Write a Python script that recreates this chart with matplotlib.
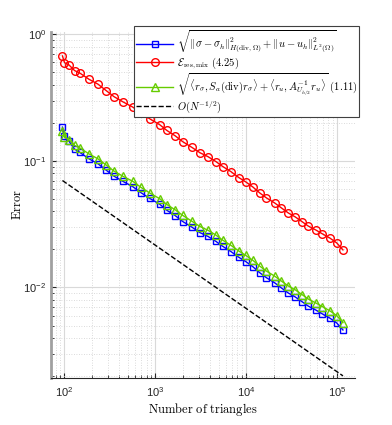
import matplotlib
matplotlib.use('Agg')
import matplotlib.pyplot as plt
from matplotlib.ticker import LogLocator, NullFormatter

plt.rcParams['font.family'] = ['Liberation Sans', 'DejaVu Sans']
plt.rcParams['mathtext.fontset'] = 'cm'

# number of triangles of the adaptive meshes
n_tri = [95, 100, 112, 129, 148, 186, 234, 287, 351, 440, 566, 692, 870,
         1120, 1340, 1650, 2000, 2520, 3100, 3800, 4650, 5530, 6800, 8300,
         9900, 11800, 14100, 16700, 20500, 24400, 29000, 34600, 41400,
         48000, 58000, 69000, 83000, 99000, 116000]

# exact error
err_exact = [0.185, 0.157, 0.1435, 0.124, 0.1166, 0.1039, 0.0949, 0.0846,
             0.0757, 0.0689, 0.0625, 0.0562, 0.0505, 0.0454, 0.0407, 0.0370,
             0.0332, 0.0300, 0.0271, 0.0253, 0.0231, 0.0211, 0.0192, 0.0173,
             0.0160, 0.0146, 0.01306, 0.01193, 0.01090, 0.00990, 0.00904,
             0.00841, 0.00769, 0.00713, 0.00664, 0.00617, 0.00573, 0.00524,
             0.00461]

# residual estimator (4.25)
err_res = [0.676, 0.598, 0.574, 0.518, 0.494, 0.442, 0.404, 0.360, 0.322,
           0.293, 0.266, 0.239, 0.215, 0.193, 0.174, 0.158, 0.142, 0.128,
           0.116, 0.108, 0.0987, 0.0902, 0.0822, 0.0738, 0.0682, 0.0623,
           0.0558, 0.0510, 0.0466, 0.0425, 0.0388, 0.0361, 0.0330, 0.0306,
           0.0285, 0.0265, 0.0246, 0.0225, 0.0198]

# estimator (1.11)
err_dual = [0.173, 0.154, 0.1475, 0.1326, 0.1265, 0.1136, 0.1038, 0.0929,
            0.0831, 0.0756, 0.0689, 0.0619, 0.0557, 0.0502, 0.0452, 0.0411,
            0.0371, 0.0334, 0.0303, 0.0283, 0.0259, 0.0236, 0.0215, 0.0194,
            0.0179, 0.0164, 0.01473, 0.01346, 0.01230, 0.01122, 0.01028,
            0.00957, 0.00875, 0.00811, 0.00755, 0.00705, 0.00654, 0.00599,
            0.00527]

# reference slope line
ref_n = [95, 116000]
ref_err = [0.070, 0.0020]

fig = plt.figure(figsize=(3.92, 4.25), dpi=100)
ax = fig.add_axes([0.130, 0.111, 0.776, 0.814])

lw = 1.0
ax.loglog(n_tri, err_exact, '-s', color='#0000ff', mfc='none', ms=4.5, lw=lw, mew=1.0,
          label=r'$\sqrt{\|\sigma-\sigma_h\|^2_{H(\mathrm{div},\Omega)}+\|u-u_h\|^2_{L^2(\Omega)}}$')
ax.loglog(n_tri, err_res, '-o', color='#ff0000', mfc='none', ms=5.5, lw=lw, mew=1.0,
          label=r'$\mathcal{E}_{\mathrm{res,mix}}\ (4.25)$')
ax.loglog(n_tri, err_dual, '-^', color='#66cc00', mfc='none', ms=5.5, lw=lw, mew=1.0,
          label=r'$\sqrt{\langle r_\sigma, S_a(\mathrm{div})r_\sigma\rangle+\langle r_u, A^{-1}_{U_{h/2}}r_u\rangle}\ (1.11)$')
ax.loglog(ref_n, ref_err, '--', color='black', lw=1.0,
          label=r'$O(N^{-1/2})$')

ax.set_xlim(71, 158000)
ax.set_ylim(0.00193, 1.047)

ax.xaxis.set_major_locator(LogLocator(base=10, numticks=10))
ax.xaxis.set_minor_locator(LogLocator(base=10, subs=range(2, 10), numticks=20))
ax.yaxis.set_major_locator(LogLocator(base=10, numticks=10))
ax.yaxis.set_minor_locator(LogLocator(base=10, subs=range(2, 10), numticks=20))
ax.xaxis.set_minor_formatter(NullFormatter())
ax.yaxis.set_minor_formatter(NullFormatter())

ax.grid(True, which='major', color='#d9d9d9', lw=0.8, ls='-')
ax.grid(True, which='minor', color='#cfcfcf', lw=0.6, ls=(0, (1, 2)))
ax.set_axisbelow(True)

ax.tick_params(which='both', direction='in', labelsize=8, colors='#262626')
ax.tick_params(which='major', length=3.5)
ax.tick_params(which='minor', length=2)
ax.tick_params(axis='x', pad=5)

ax.spines['top'].set_visible(False)
ax.spines['right'].set_visible(False)
ax.spines['left'].set_color('#a0a0a0')
ax.spines['left'].set_linewidth(2.0)
ax.spines['bottom'].set_color('#262626')
ax.spines['bottom'].set_linewidth(0.8)

ax.set_xlabel(r'$\mathrm{Number\ of\ triangles}$', fontsize=9, labelpad=2)
ax.set_ylabel(r'$\mathrm{Error}$', fontsize=9, labelpad=-1)

leg = ax.legend(loc='upper left', bbox_to_anchor=(134 / 392, 1 - 26 / 425),
                bbox_transform=fig.transFigure, borderaxespad=0, fontsize=7.6,
                handlelength=3.5, handletextpad=0.35, borderpad=0.2,
                labelspacing=0.05, fancybox=False, framealpha=1,
                edgecolor='#404040')
leg.get_frame().set_linewidth(0.8)

fig.savefig('out.png', dpi=100)
